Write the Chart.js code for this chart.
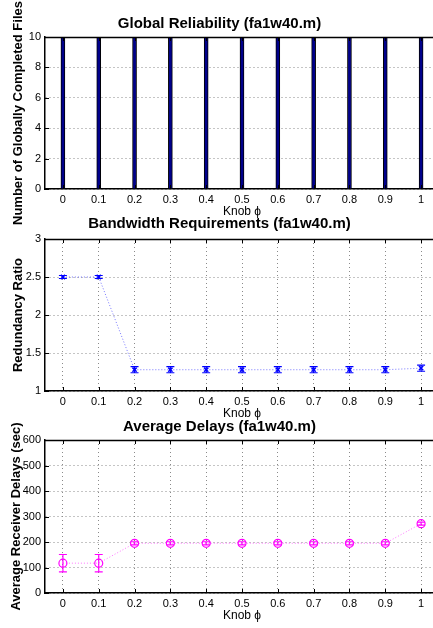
<!doctype html>
<html>

<head>
    <title>fa1w40</title>
    <script src="https://cdn.jsdelivr.net/npm/chart.js"></script>
    <style>
        html, body { margin: 0; padding: 0; overflow: hidden; background: #fff; }
        body { width: 433px; height: 628px; position: relative; }
        canvas { position: absolute; left: 0; }
    </style>
</head>

<body>
    <canvas id="reliability" width="484" height="229" style="top:0px"></canvas>
    <canvas id="bandwidth" width="484" height="221" style="top:200px"></canvas>
    <canvas id="delays" width="484" height="228" style="top:400px"></canvas>

    <script>
        // knob values (x axis of all three panels)
        var knob = [0, 0.1, 0.2, 0.3, 0.4, 0.5, 0.6, 0.7, 0.8, 0.9, 1]
        var knobLabels = ['0', '0.1', '0.2', '0.3', '0.4', '0.5', '0.6', '0.7', '0.8', '0.9', '1']

        // panel 1 - globally completed files
        var completedFiles = [10, 10, 10, 10, 10, 10, 10, 10, 10, 10, 10]
        var completedTicks = [0, 2, 4, 6, 8, 10]
        var completedLabels = ['0', '2', '4', '6', '8', '10']

        // panel 2 - redundancy ratio
        var ratio = [2.5, 2.5, 1.28, 1.28, 1.28, 1.28, 1.28, 1.28, 1.28, 1.28, 1.30]
        var ratioErr = [0.02, 0.02, 0.04, 0.04, 0.04, 0.04, 0.04, 0.04, 0.04, 0.04, 0.04]
        var ratioTicks = [1, 1.5, 2, 2.5, 3]
        var ratioLabels = ['1', '1.5', '2', '2.5', '3']

        // panel 3 - average receiver delays (sec)
        var delays = [117, 117, 195, 195, 195, 195, 195, 195, 195, 195, 272]
        var delaysErr = [34, 34, 6, 6, 6, 6, 6, 6, 6, 6, 6]
        var delayTicks = [0, 100, 200, 300, 400, 500, 600]
        var delayLabels = ['0', '100', '200', '300', '400', '500', '600']

        var FONT = "'Liberation Sans', Arial, Helvetica, sans-serif"
        Chart.defaults.font.family = FONT
        Chart.defaults.color = '#000'
        Chart.defaults.animation = false

        function points(ys) {
            return knob.map(function (x, i) { return { x: x, y: ys[i] } })
        }

        // box top edge, inner tick marks (matlab style) and the y axis title
        var frame = {
            id: 'frame',
            afterDatasetsDraw: function (chart, args, opts) {
                var ctx = chart.ctx, a = chart.chartArea
                var x = chart.scales.x, y = chart.scales.y
                ctx.save()
                ctx.strokeStyle = '#000'
                ctx.lineWidth = 1
                ctx.beginPath()
                x.ticks.forEach(function (t) {
                    var px = Math.round(x.getPixelForValue(t.value)) + 0.5
                    ctx.moveTo(px, a.top); ctx.lineTo(px, a.top + 4)
                    ctx.moveTo(px, a.bottom); ctx.lineTo(px, a.bottom - 4)
                })
                y.ticks.forEach(function (t) {
                    var py = Math.round(y.getPixelForValue(t.value)) + 0.5
                    ctx.moveTo(a.left, py); ctx.lineTo(a.left + 4, py)
                })
                ctx.stroke()
                ctx.lineWidth = 1.5
                ctx.beginPath()
                ctx.moveTo(a.left, a.top + 0.5); ctx.lineTo(a.right, a.top + 0.5)
                ctx.stroke()

                ctx.font = 'bold 13px ' + FONT
                ctx.fillStyle = '#000'
                ctx.textAlign = 'center'
                ctx.textBaseline = 'middle'
                ctx.translate(opts.x, (a.top + a.bottom) / 2)
                ctx.rotate(-Math.PI / 2)
                ctx.fillText(opts.text, 0, 0)
                ctx.restore()
            }
        }

        var errorBars = {
            id: 'errorBars',
            afterDatasetsDraw: function (chart) {
                var ctx = chart.ctx, x = chart.scales.x, y = chart.scales.y
                chart.data.datasets.forEach(function (ds) {
                    if (!ds.errors) return
                    ctx.save()
                    ctx.strokeStyle = ds.pointBorderColor
                    ctx.lineWidth = 1.2
                    ds.data.forEach(function (p, i) {
                        var px = x.getPixelForValue(p.x)
                        var lo = y.getPixelForValue(p.y - ds.errors[i])
                        var hi = y.getPixelForValue(p.y + ds.errors[i])
                        ctx.beginPath()
                        ctx.moveTo(px, lo); ctx.lineTo(px, hi)
                        ctx.moveTo(px - 4, lo); ctx.lineTo(px + 4, lo)
                        ctx.moveTo(px - 4, hi); ctx.lineTo(px + 4, hi)
                        ctx.stroke()
                    })
                    ctx.restore()
                })
            }
        }

        function xScale() {
            return {
                type: 'linear',
                min: -0.05,
                max: 1.05,
                offset: false,
                afterBuildTicks: function (s) { s.ticks = knob.map(function (v) { return { value: v } }) },
                afterFit: function (s) { s.height = 30 },
                ticks: {
                    autoSkip: false,
                    maxRotation: 0,
                    padding: 4,
                    font: { size: 11 },
                    callback: function (v, i) { return knobLabels[i] }
                },
                grid: { color: '#8a8a8a', drawTicks: false, offset: false },
                border: { color: '#000', width: 1.5, dash: [1, 3] },
                title: { display: true, text: 'Knob ϕ', font: { size: 12 }, padding: 0 }
            }
        }

        function yScale(min, max, tickVals, labels) {
            return {
                type: 'linear',
                min: min,
                max: max,
                afterBuildTicks: function (s) { s.ticks = tickVals.map(function (v) { return { value: v } }) },
                afterFit: function (s) { s.width = 45 },
                ticks: {
                    padding: 4,
                    font: { size: 11 },
                    callback: function (v, i) { return labels[i] }
                },
                grid: { color: '#8a8a8a', drawTicks: false },
                border: { color: '#000', width: 1.5, dash: [1, 3] }
            }
        }

        function titleOpts(text, top, bottom) {
            return {
                display: true,
                text: text,
                font: { size: 15, weight: 'bold', lineHeight: 1.2 },
                padding: { top: top, bottom: bottom }
            }
        }

        var reliability = new Chart(document.getElementById('reliability'), {
            type: 'bar',
            data: {
                datasets: [{
                    data: points(completedFiles),
                    backgroundColor: '#00008b',
                    borderColor: '#000',
                    borderWidth: 1,
                    barThickness: 4
                }]
            },
            options: {
                responsive: false,
                layout: { padding: { left: 0, right: 45, top: 0, bottom: 10 } },
                plugins: {
                    legend: { display: false },
                    tooltip: { enabled: false },
                    title: titleOpts('Global Reliability (fa1w40.m)', 15, 4),
                    frame: { text: 'Number of Globally Completed Files', x: 18 }
                },
                scales: {
                    x: xScale(),
                    y: yScale(0, 10, completedTicks, completedLabels)
                }
            },
            plugins: [frame]
        });

        var bandwidth = new Chart(document.getElementById('bandwidth'), {
            type: 'line',
            data: {
                datasets: [{
                    data: points(ratio),
                    errors: ratioErr,
                    borderColor: 'rgba(60,60,255,0.7)',
                    borderWidth: 1,
                    borderDash: [1, 2],
                    pointStyle: 'crossRot',
                    pointRadius: 3,
                    pointBorderWidth: 1.5,
                    pointBorderColor: '#0000ff',
                    pointBackgroundColor: '#0000ff',
                    fill: false
                }]
            },
            options: {
                responsive: false,
                layout: { padding: { left: 0, right: 45, top: 0, bottom: 0 } },
                plugins: {
                    legend: { display: false },
                    tooltip: { enabled: false },
                    title: titleOpts('Bandwidth Requirements (fa1w40.m)', 15, 6),
                    frame: { text: 'Redundancy Ratio', x: 18 }
                },
                scales: {
                    x: xScale(),
                    y: yScale(1, 3, ratioTicks, ratioLabels)
                }
            },
            plugins: [errorBars, frame]
        });

        var delaysChart = new Chart(document.getElementById('delays'), {
            type: 'line',
            data: {
                datasets: [{
                    data: points(delays),
                    errors: delaysErr,
                    borderColor: 'rgba(255,60,255,0.7)',
                    borderWidth: 1,
                    borderDash: [1, 2],
                    pointStyle: 'circle',
                    pointRadius: 4,
                    pointBorderWidth: 1.2,
                    pointBorderColor: '#ff00ff',
                    pointBackgroundColor: 'rgba(0,0,0,0)',
                    fill: false
                }]
            },
            options: {
                responsive: false,
                layout: { padding: { left: 0, right: 45, top: 0, bottom: 5 } },
                plugins: {
                    legend: { display: false },
                    tooltip: { enabled: false },
                    title: titleOpts('Average Delays (fa1w40.m)', 17.7, 4.3),
                    frame: { text: 'Average Receiver Delays (sec)', x: 16 }
                },
                scales: {
                    x: xScale(),
                    y: yScale(0, 600, delayTicks, delayLabels)
                }
            },
            plugins: [errorBars, frame]
        });
    </script>
</body>

</html>
